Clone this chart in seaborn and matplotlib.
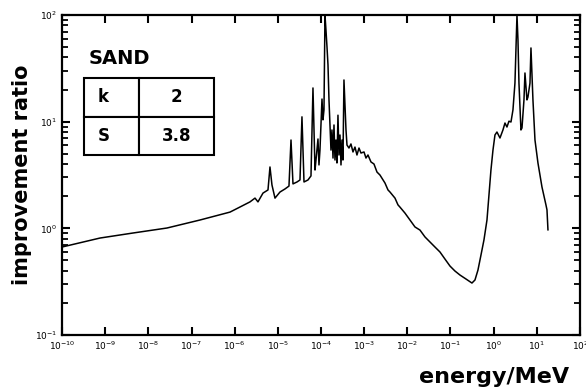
import numpy as np
import pandas as pd
import matplotlib
matplotlib.use("Agg")
import matplotlib.pyplot as plt
import matplotlib.ticker as mticker
import seaborn as sns

# ---- data (log10 of energy in MeV, improvement ratio) ----
log10_energy = [
    -10.00, -9.12, -8.355, -7.568, -6.803, -6.108, -5.923, -5.645, -5.529, -5.460,
    -5.344, -5.228, -5.182, -5.136, -5.066, -4.950, -4.834, -4.742, -4.695, -4.649,
    -4.556, -4.487, -4.441, -4.394, -4.302, -4.232, -4.186, -4.139, -4.116, -4.070,
    -4.047, -4.024, -3.977, -3.954, -3.931, -3.908, -3.885, -3.861, -3.838, -3.815,
    -3.792, -3.769, -3.746, -3.722, -3.699, -3.676, -3.653, -3.630, -3.607, -3.584,
    -3.560, -3.537, -3.514, -3.491, -3.468, -3.421, -3.398, -3.352, -3.306, -3.259,
    -3.213, -3.167, -3.120, -3.074, -3.004, -2.958, -2.912, -2.842, -2.773, -2.703,
    -2.634, -2.518, -2.448, -2.402, -2.286, -2.217, -2.170, -2.055, -1.939, -1.823,
    -1.707, -1.591, -1.476, -1.360, -1.244, -1.128, -1.012, -0.897, -0.781, -0.642,
    -0.503, -0.433, -0.364, -0.294, -0.225, -0.155, -0.109, -0.063, -0.016, 0.030,
    0.076, 0.146, 0.215, 0.262, 0.308, 0.354, 0.401, 0.447, 0.493, 0.540,
    0.563, 0.586, 0.632, 0.656, 0.702, 0.725, 0.771, 0.794, 0.841, 0.864,
    0.910, 0.957, 1.026, 1.119, 1.211, 1.235, 1.258,
]
improvement_ratio = [
    0.668, 0.811, 0.904, 1.007, 1.197, 1.42, 1.55, 1.77, 1.92, 1.77,
    2.14, 2.29, 3.76, 2.55, 1.92, 2.19, 2.34, 2.49, 6.73, 2.61,
    2.72, 2.84, 11.1, 2.72, 2.84, 3.10, 20.7, 3.52, 4.37, 6.88,
    3.93, 5.42, 16.3, 10.4, 12.9, 100.0, 72.3, 50.1, 34.0, 16.0,
    9.31, 5.42, 8.36, 4.56, 9.31, 4.37, 6.73, 4.10, 11.5, 4.87,
    7.50, 3.93, 6.73, 4.37, 24.6, 8.36, 6.04, 5.66, 6.18, 5.20,
    5.78, 4.87, 5.66, 5.08, 5.20, 4.56, 4.87, 4.19, 4.01, 3.37,
    3.16, 2.66, 2.29, 2.19, 1.92, 1.66, 1.58, 1.39, 1.197, 1.03,
    0.963, 0.830, 0.745, 0.668, 0.600, 0.515, 0.443, 0.398, 0.365, 0.335,
    0.307, 0.328, 0.406, 0.562, 0.778, 1.197, 2.05, 3.52, 5.42, 7.50,
    8.00, 7.03, 8.36, 9.71, 8.91, 10.1, 9.93, 12.9, 23.0, 100.0,
    58.3, 23.0, 8.36, 8.73, 16.0, 28.6, 16.0, 17.0, 23.0, 49.1,
    16.0, 6.73, 4.10, 2.44, 1.66, 1.49, 0.963,
]
x_tick_exponents = list(range(-10, 3))
y_tick_exponents = [-1, 0, 1, 2]
title_text = "SAND"
table_rows = [["k", "2"], ["S", "3.8"]]

df = pd.DataFrame({
    "energy": 10.0 ** np.array(log10_energy),
    "ratio": improvement_ratio,
})

sns.set_style("ticks")
plt.rcParams["font.family"] = ["DejaVu Sans"]
plt.rcParams["text.color"] = "black"
plt.rcParams["axes.labelcolor"] = "black"
plt.rcParams["xtick.color"] = "black"
plt.rcParams["ytick.color"] = "black"

fig = plt.figure(figsize=(5.86, 3.91), dpi=100)
ax = fig.add_axes([62 / 586, 1 - 335 / 391, 518 / 586, 320 / 391])

sns.lineplot(data=df, x="energy", y="ratio", ax=ax, color="black",
             linewidth=1.1, estimator=None, sort=False)

ax.set_xscale("log")
ax.set_yscale("log")
ax.set_xlim(1e-10, 1e2)
ax.set_ylim(1e-1, 1e2)

ax.set_xticks([10.0 ** e for e in x_tick_exponents])
ax.xaxis.set_minor_locator(mticker.NullLocator())
ax.set_yticks([10.0 ** e for e in y_tick_exponents])
ax.yaxis.set_minor_locator(mticker.LogLocator(base=10, subs=np.arange(2, 10)))
ax.yaxis.set_minor_formatter(mticker.NullFormatter())

ax.tick_params(which="both", direction="in", top=True, right=True,
               colors="black", labelcolor="black", labelsize=6.5)
ax.tick_params(which="major", length=6, width=1.5)
ax.tick_params(which="minor", length=4, width=1.3)
for s in ax.spines.values():
    s.set_linewidth(1.6)
    s.set_color("black")

ax.set_xlabel("")
ax.set_ylabel("")
fig.text(494 / 586, 1 - 377 / 391, "energy/MeV", fontsize=16, fontweight="heavy",
         ha="center", va="center", color="black")
fig.text(22 / 586, 1 - 175 / 391, "improvement ratio", fontsize=15, fontweight="heavy",
         ha="center", va="center", rotation=90, color="black")

ax.text((119 - 62) / 518, (335 - 58) / 320, title_text, transform=ax.transAxes,
        fontsize=14, fontweight="heavy", ha="center", va="center", color="black")

tbl = ax.table(cellText=table_rows, colWidths=[55 / 130, 75 / 130],
               bbox=[(84 - 62) / 518, (335 - 155) / 320, 130 / 518, 77 / 320],
               cellLoc="center")
tbl.auto_set_font_size(False)
for (r, c), cell in tbl.get_celld().items():
    cell.set_linewidth(1.5)
    cell.set_edgecolor("black")
    cell.get_text().set_fontsize(12)
    cell.get_text().set_fontweight("bold")
    cell.get_text().set_color("black")
    if c == 0:
        cell.set_text_props(ha="left")
        cell.PAD = 0.25

fig.savefig("out.png", dpi=100)
